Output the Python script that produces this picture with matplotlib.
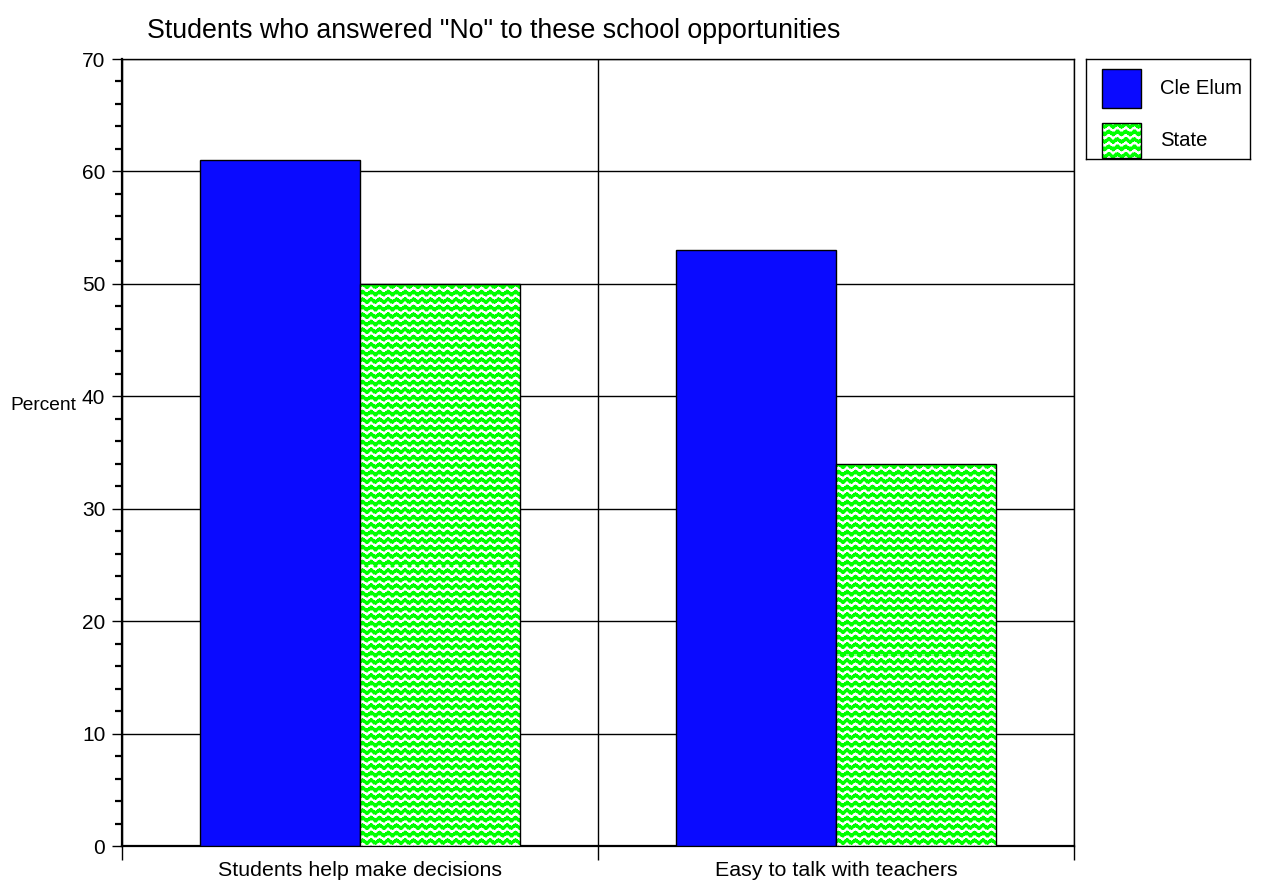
import numpy as np
import matplotlib
matplotlib.use("Agg")
import matplotlib.pyplot as plt
from matplotlib.patches import Rectangle

plt.rcParams['font.family'] = ['Liberation Sans', 'DejaVu Sans']

categories = ["Students help make decisions", "Easy to talk with teachers"]
series_names = ["Cle Elum", "State"]
cle_elum = [61, 53]
state = [50, 34]
y_ticks = [0, 10, 20, 30, 40, 50, 60, 70]
title = 'Students who answered "No" to these school opportunities'

W, H, DPI = 1263, 886, 100
BLUE = "#0a0aff"
GREEN = np.array([0, 255, 0]) / 255.0


def wave_pattern(h, w):
    # green wavy bands on white, one pixel per cell
    yy, xx = np.mgrid[0:h, 0:w]
    phase = (yy + 1.2 * np.sin(2 * np.pi * xx / 8.5)) % 7.5
    img = np.ones((h, w, 3))
    img[phase < 4.0] = GREEN
    img[(phase >= 4.0) & (phase < 4.8)] = [0.55, 1.0, 0.55]
    img[(phase >= 7.0)] = [0.7, 1.0, 0.7]
    return img


def patterned_bar(ax, x0, y0, x1, y1):
    rect = Rectangle((x0, y0), x1 - x0, y1 - y0, facecolor="none",
                     edgecolor="black", linewidth=1.0, zorder=4)
    ax.add_patch(rect)
    p0 = ax.transData.transform((x0, y0))
    p1 = ax.transData.transform((x1, y1))
    pw = max(int(round(abs(p1[0] - p0[0]))), 1)
    ph = max(int(round(abs(p1[1] - p0[1]))), 1)
    im = ax.imshow(wave_pattern(ph, pw), extent=(x0, x1, y0, y1),
                   interpolation="nearest", aspect="auto", zorder=3)
    im.set_clip_path(rect)


fig = plt.figure(figsize=(W / DPI, H / DPI), dpi=DPI)
ax = fig.add_axes([122 / W, 1 - 846 / H, (1074 - 122) / W, (846 - 59) / H])
ax.set_xlim(-0.5, len(categories) - 0.5)
ax.set_ylim(0, 70)

x = np.arange(len(categories))
bw = 0.336

ax.bar(x - bw / 2, cle_elum, bw, color=BLUE, edgecolor="black",
       linewidth=1.0, zorder=3, label=series_names[0])
for xi, v in zip(x, state):
    patterned_bar(ax, xi, 0, xi + bw, v)

# grid: horizontal at major ticks, vertical at category boundaries
for yt in y_ticks:
    ax.axhline(yt, color="black", linewidth=1.0, zorder=2)
for b in np.arange(-0.5, len(categories), 1.0):
    ax.axvline(b, color="black", linewidth=1.0, zorder=2)

for s in ax.spines.values():
    s.set_linewidth(1.0)
ax.spines["left"].set_linewidth(1.6)
ax.spines["bottom"].set_linewidth(1.6)

ax.set_yticks(y_ticks)
ax.set_yticks(np.arange(0, 71, 2), minor=True)
ax.tick_params(axis="y", which="major", length=7, width=1.0, labelsize=15, pad=5)
ax.tick_params(axis="y", which="minor", length=5, width=1.6)

ax.set_xticks(np.arange(-0.5, len(categories), 1.0))
ax.set_xticklabels([])
ax.tick_params(axis="x", which="major", length=10, width=1.0, direction="out")
ax.set_xticks(x, minor=True)
ax.set_xticklabels(categories, minor=True, fontsize=15.4)
ax.tick_params(axis="x", which="minor", length=0, pad=11)

fig.text(10 / W, 1 - 405 / H, "Percent", fontsize=13.8, va="center", ha="left")
fig.text(147 / W, 1 - 31 / H, title, fontsize=19.3, va="center", ha="left")

# legend box drawn in pixel coordinates
lg = fig.add_axes([1086 / W, 1 - 159 / H, (1250 - 1086) / W, (159 - 59) / H])
lg.set_xlim(1086, 1250)
lg.set_ylim(159, 59)
lg.set_xticks([])
lg.set_yticks([])
for s in lg.spines.values():
    s.set_linewidth(1.0)
lg.add_patch(Rectangle((1102, 69), 39, 39, facecolor=BLUE, edgecolor="black",
                       linewidth=1.0, zorder=3))
patterned_bar(lg, 1102, 123, 1141, 158)
lg.text(1160, 88, series_names[0], fontsize=14.6, va="center", ha="left")
lg.text(1160, 141, series_names[1], fontsize=14.6, va="center", ha="left")

fig.savefig("out.png", dpi=DPI)
